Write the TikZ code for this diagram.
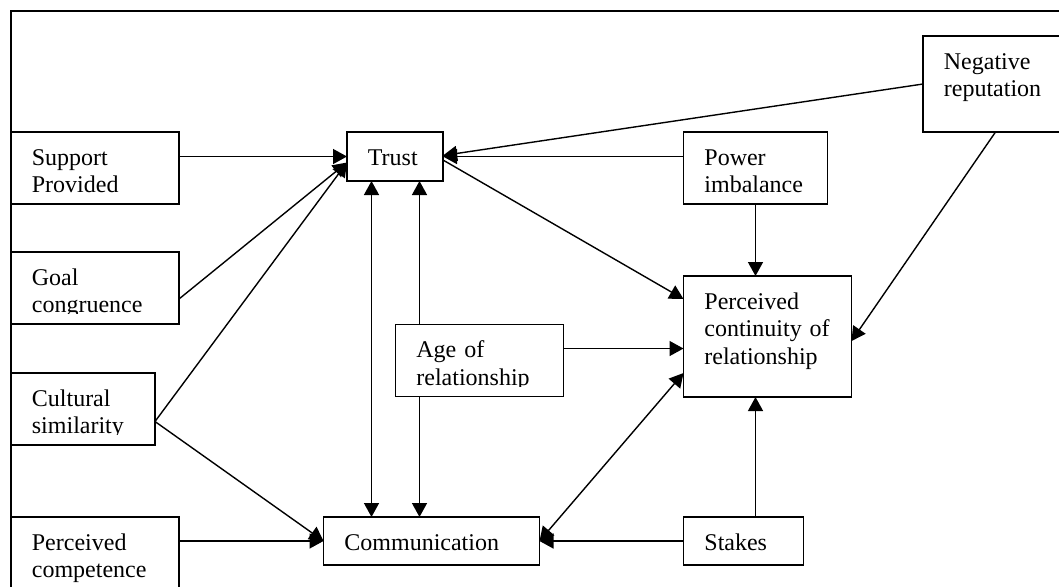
\documentclass[tikz,border=0pt]{standalone}
\usepackage{fontspec}
\setmainfont{Liberation Serif}
\usetikzlibrary{arrows.meta}

\begin{document}
\begin{tikzpicture}[x=0.5pt, y=-0.5pt,
  box/.style={draw, line width=0.75pt, anchor=north west, inner sep=0pt, outer sep=0pt},
  txt/.style={anchor=base west, align=left, text width=90pt, inner sep=0pt, xshift=10.25pt, yshift=-16.5pt, font=\fontsize{12pt}{13.75pt}\selectfont},
  arr/.style={line width=0.7pt, -{Triangle[length=7pt, width=7.5pt]}},
  darr/.style={line width=0.7pt, {Triangle[length=7pt, width=7.5pt]}-{Triangle[length=7pt, width=7.5pt]}}]
\path[use as bounding box] (0,0) rectangle (1059,586);
\clip (0,0) rectangle (1059,586);
\draw[line width=1.1pt] (1070,11) -- (11,11) -- (11,600);

% boxes
\node[box, minimum width=84pt, minimum height=36pt] (support) at (11,132) {};
\node[box, minimum width=84pt, minimum height=36pt] (goal) at (11,252) {};
\node[box, minimum width=72pt, minimum height=36pt] (cultural) at (11,373) {};
\node[box, minimum width=84pt, minimum height=36pt] (competence) at (11,517) {};
\node[box, minimum width=48pt, minimum height=24.5pt] (trust) at (347,132) {};
\node[box, minimum width=108pt, minimum height=24pt] (comm) at (323.5,517) {};
\node[box, minimum width=84pt, minimum height=36pt] (age) at (395.5,324.5) {};
\node[box, minimum width=72pt, minimum height=36pt] (power) at (683.5,132) {};
\node[box, minimum width=84pt, minimum height=48pt] (negative) at (923,36) {};
\node[box, minimum width=84pt, minimum height=60.5pt] (perceived) at (683.5,276) {};
\node[box, minimum width=60pt, minimum height=24pt] (stakes) at (683.5,517) {};

% texts
\node[txt] (support-t) at (support.north west) {Support\\Provided};
\begin{scope}
\clip (goal.north west) rectangle ([yshift=5.25pt]goal.south east);
\node[txt] (goal-t) at (goal.north west) {Goal\\congruence};
\end{scope}
\begin{scope}
\clip (cultural.north west) rectangle ([yshift=5.25pt]cultural.south east);
\node[txt] (cultural-t) at (cultural.north west) {Cultural\\similarity};
\end{scope}
\node[txt] (competence-t) at (competence.north west) {Perceived\\competence};
\node[txt] (trust-t) at (trust.north west) {Trust};
\node[txt] (comm-t) at (comm.north west) {Communication};
\begin{scope}
\clip (age.north west) rectangle ([yshift=5.25pt]age.south east);
\node[txt] (age-t) at (age.north west) {Age of\\relationship};
\end{scope}
\node[txt] (power-t) at (power.north west) {Power\\imbalance};
\node[txt] (negative-t) at (negative.north west) {Negative\\reputation};
\node[txt] (perceived-t) at (perceived.north west) {Perceived\\continuity of\\relationship};
\node[txt] (stakes-t) at (stakes.north west) {Stakes};

% arrows
\coordinate (cs) at ([yshift=-6.25pt]cultural.east);
\draw[arr] (support.east |- trust.west) -- (trust.west);
\draw[arr] ([yshift=-5.5pt]goal.east) -- ([yshift=-3pt]trust.west);
\draw[arr] (cs) -- ([yshift=-3pt]trust.west);
\draw[arr] (cs) -- (comm.west);
\draw[arr] (competence.east |- comm.west) -- (comm.west);
\draw[darr] ([xshift=-11.75pt]trust.south) -- ([xshift=-11.75pt]trust.south |- comm.north);
\draw[arr] ([xshift=12.25pt]trust.south |- age.north) -- ([xshift=12.25pt]trust.south);
\draw[arr] ([xshift=12.25pt]trust.south |- age.south) -- ([xshift=12.25pt]trust.south |- comm.north);
\draw[arr] ([yshift=6pt]age.east) -- ([yshift=6pt]age.east -| perceived.west);
\draw[arr] (power.south) -- (power.south |- perceived.north);
\draw[arr] (power.west |- trust.east) -- (trust.east);
\draw[arr] (negative.west) -- ([yshift=0.5pt]trust.east);
\draw[arr] ([yshift=-1.75pt]trust.east) -- ([yshift=18.75pt]perceived.west);
\draw[arr] ([xshift=-5.75pt]negative.south) -- ([yshift=-2.25pt]perceived.east);
\draw[darr] (comm.east) -- ([yshift=-18.25pt]perceived.west);
\draw[arr] (stakes.west) -- (comm.east);
\draw[arr] ([xshift=6pt]stakes.north) -- ([xshift=6pt]stakes.north |- perceived.south);
\end{tikzpicture}
\end{document}
